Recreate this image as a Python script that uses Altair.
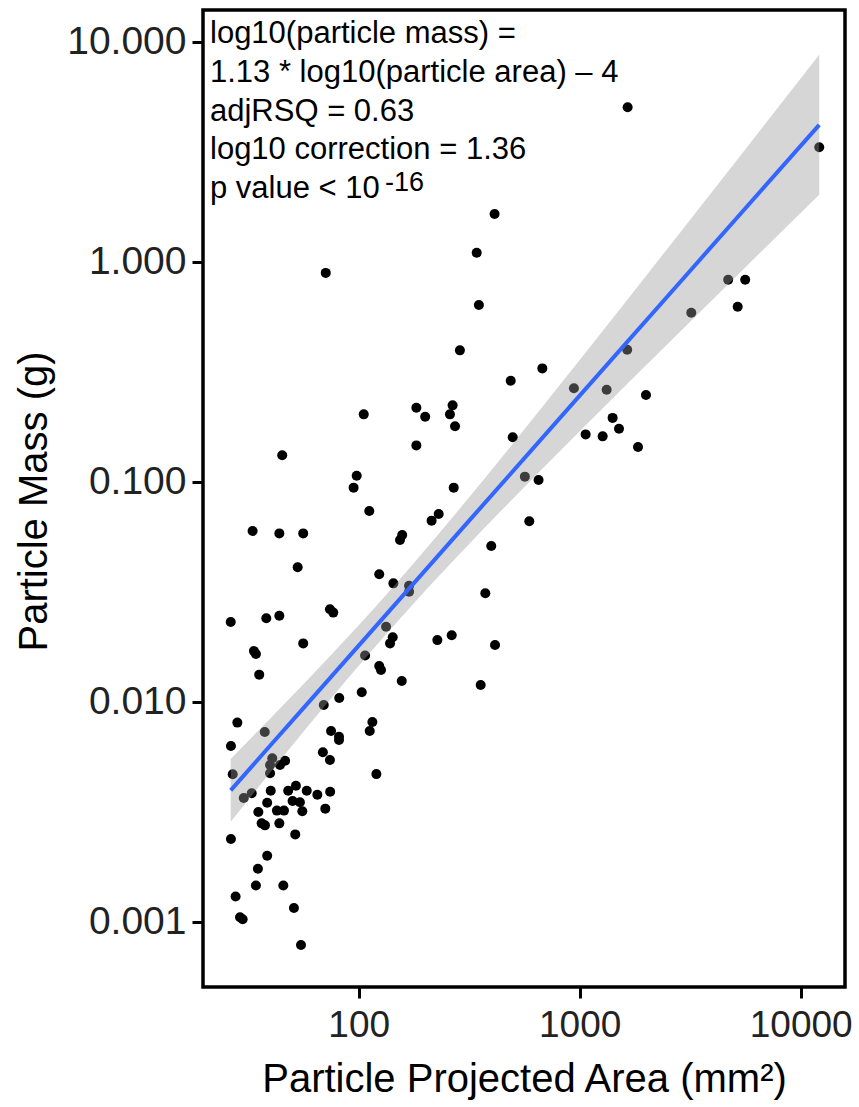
import altair as alt
import pandas as pd
import numpy as np

# ---- scatter data (log10 units) ----
log10_area = [3.217, 4.084, 2.615, 2.534, 2.544, 2.458, 2.831, 2.688, 2.974, 3.122,
              3.215, 3.505, 3.672, 3.749, 3.715, 3.300, 3.149, 3.178, 3.027, 3.104,
              3.264, 2.425, 2.413, 2.301, 2.436, 2.697, 2.752, 2.814, 2.430, 2.362,
              2.330, 2.772, 2.600,
              2.023, 2.261, 2.261, 1.654, 1.991, 1.977, 2.048, 1.520, 1.641, 1.749,
              2.197, 2.187, 1.724, 2.093, 2.157, 2.228, 2.228, 1.421, 1.582, 1.641,
              1.870, 1.885, 2.124, 2.154, 2.142, 2.356, 2.421, 1.749, 2.029, 2.573,
              2.617, 2.552, 1.526, 1.535, 1.550, 2.093, 2.101,
              2.195, 1.451, 1.575, 1.422, 1.842, 1.912, 2.014, 2.062, 2.050, 1.875,
              1.911, 1.911, 1.838, 1.870, 2.080, 1.430, 1.609, 1.599, 1.644, 1.667,
              1.599, 1.480, 1.516, 1.602, 1.681, 1.716, 1.765, 1.813, 1.871, 1.586,
              1.701, 1.734, 1.745, 1.849, 1.546, 1.630, 1.662, 1.561, 1.576, 1.641,
              1.713, 1.422, 1.586, 1.544, 1.535, 1.659, 1.443, 1.707, 1.463, 1.475,
              1.739, 1.851]
log10_mass = [0.702, 0.520, 0.217, 0.041, -0.197, -0.403, -0.485, -0.541, -0.575, -0.582,
              -0.400, -0.232, -0.082, -0.082, -0.205, -0.606, -0.710, -0.759, -0.785, -0.794,
              -0.842, -0.653, -0.694, -0.705, -0.748, -0.798, -0.977, -0.992, -1.027, -1.147,
              -1.177, -1.180, -1.292,
              -0.694, -0.664, -0.835, -0.880, -0.973, -1.027, -1.133, -1.224, -1.235, -1.235,
              -1.242, -1.265, -1.389, -1.421, -1.462, -1.473, -1.500, -1.638, -1.621, -1.609,
              -1.580, -1.595, -1.659, -1.707, -1.735, -1.720, -1.698, -1.735, -1.790, -1.507,
              -1.742, -1.924, -1.770, -1.783, -1.877, -1.838, -1.856,
              -1.906, -2.095, -2.138, -2.201, -2.015, -1.983, -1.957, -2.092, -2.133, -2.133,
              -2.159, -2.174, -2.230, -2.265, -2.329, -2.330, -2.257, -2.288, -2.288, -2.268,
              -2.325, -2.438, -2.416, -2.405, -2.405, -2.382, -2.405, -2.423, -2.409, -2.459,
              -2.451, -2.457, -2.498, -2.486, -2.501, -2.495, -2.495, -2.553, -2.562, -2.553,
              -2.603, -2.624, -2.700, -2.759, -2.835, -2.835, -2.885, -2.938, -2.980, -2.989,
              -3.106, -0.051]
assert len(log10_area) == len(log10_mass)

# ---- fitted line and confidence ribbon (log10 units) ----
band_log10_area = [1.421, 1.6, 1.75, 2.0, 2.14, 2.25, 2.5, 3.0, 3.5, 3.75, 4.084]
band_log10_fit = [-2.403, -2.199, -2.029, -1.745, -1.586, -1.461, -1.177, -0.609, -0.041, 0.243, 0.622]
band_log10_lower = [-2.546, -2.322, -2.137, -1.837, -1.675, -1.552, -1.283, -0.771, -0.273, -0.025, 0.304]
band_log10_upper = [-2.260, -2.076, -1.921, -1.653, -1.497, -1.370, -1.071, -0.447, 0.191, 0.511, 0.940]

x_ticks = [100, 1000, 10000]
y_ticks = [0.001, 0.01, 0.1, 1, 10]
x_domain = [19.75, 15870]
y_domain = [0.000505, 13.93]

annotation_lines = [
    "log10(particle mass) =",
    "1.13 * log10(particle area) – 4",
    "adjRSQ = 0.63",
    "log10 correction = 1.36",
    "p value < 10",
]
annotation_sup = "-16"

pts = pd.DataFrame({"area": 10 ** np.array(log10_area), "mass": 10 ** np.array(log10_mass)})
band = pd.DataFrame({
    "area": 10 ** np.array(band_log10_area),
    "fit": 10 ** np.array(band_log10_fit),
    "lo": 10 ** np.array(band_log10_lower),
    "hi": 10 ** np.array(band_log10_upper),
})

FONT = "Liberation Sans"
X_TITLE = "Particle Projected Area (mm²)"
Y_TITLE = "Particle Mass (g)"

x_scale = alt.Scale(type="log", domain=x_domain, nice=False)
y_scale = alt.Scale(type="log", domain=y_domain, nice=False)

x_axis = alt.Axis(values=x_ticks, format="d", labelFontSize=37, labelFont=FONT,
                  labelColor="#222222", tickSize=11, tickWidth=3, tickColor="black",
                  domain=False, grid=False, labelPadding=9,
                  titleFontSize=40, titleFont=FONT, titleFontWeight="normal",
                  titleColor="black", titleBaseline="alphabetic", titleY=104)
y_axis = alt.Axis(values=y_ticks, format=".3f", labelFontSize=39, labelFont=FONT,
                  labelColor="#222222", tickSize=11, tickWidth=3, tickColor="black",
                  domain=False, grid=False, labelPadding=6,
                  titleFontSize=40, titleFont=FONT, titleFontWeight="normal",
                  titleColor="black", titleBaseline="alphabetic", titleX=-157, titleY=491)


def xenc(field):
    return alt.X(f"{field}:Q", scale=x_scale, axis=x_axis, title=X_TITLE)


def yenc(field):
    return alt.Y(f"{field}:Q", scale=y_scale, axis=y_axis, title=Y_TITLE)


points = alt.Chart(pts).mark_circle(size=100, color="black", opacity=1).encode(
    x=xenc("area"), y=yenc("mass"))

ribbon = alt.Chart(band).mark_area(color="#999999", opacity=0.4, interpolate="monotone").encode(
    x=xenc("area"), y=yenc("lo"), y2="hi:Q")

fit_line = alt.Chart(band).mark_line(color="#3366FF", strokeWidth=4).encode(
    x=xenc("area"), y=yenc("fit"))

baselines = [33, 71.8, 110.6, 149.4, 188.2]
texts = []
for line, yb in zip(annotation_lines, baselines):
    texts.append(
        alt.Chart(pd.DataFrame({"t": [line]})).mark_text(
            align="left", baseline="alphabetic", font=FONT, fontSize=31, color="black"
        ).encode(x=alt.value(7), y=alt.value(yb), text="t:N")
    )
texts.append(
    alt.Chart(pd.DataFrame({"t": [annotation_sup]})).mark_text(
        align="left", baseline="alphabetic", font=FONT, fontSize=27, color="black"
    ).encode(x=alt.value(182), y=alt.value(181), text="t:N")
)

chart = alt.layer(points, ribbon, fit_line, *texts).properties(
    width=642, height=977,
    autosize=alt.AutoSizeParams(type="none"),
    padding={"left": 203, "top": 10, "right": 14, "bottom": 120},
    background="white",
).configure_view(stroke="black", strokeWidth=3.5)

chart.save("out.html", embed_options={"renderer": "svg", "actions": False})
